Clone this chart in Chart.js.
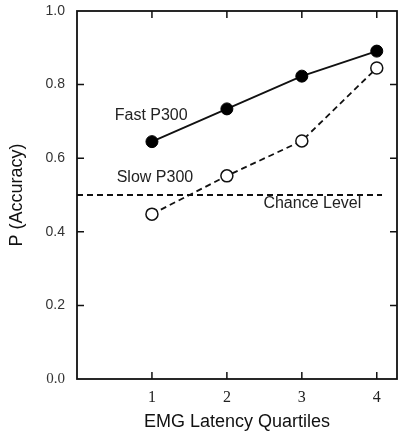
<!DOCTYPE html>
<html><head><meta charset="utf-8">
<script src="https://cdn.jsdelivr.net/npm/chart.js@4.4.1/dist/chart.umd.min.js"></script>
<style>html,body{margin:0;padding:0;background:#fff}#wrap{width:399px;height:435px}</style>
</head><body><div id="wrap"><canvas id="c" width="399" height="435"></canvas></div>
<script>
const quartiles = [1, 2, 3, 4];
const fastP300 = [0.645, 0.734, 0.823, 0.891];
const slowP300 = [0.448, 0.552, 0.647, 0.845];
const chanceX = [0, 4.07];
const chanceY = [0.5, 0.5];
const yTicks = [0, 0.2, 0.4, 0.6, 0.8, 1.0];
const xTicks = [1, 2, 3, 4];
const labels = [
  {text: 'Fast P300', x: 0.99, y: 0.715},
  {text: 'Slow P300', x: 1.04, y: 0.546},
  {text: 'Chance Level', x: 3.14, y: 0.476}
];

const framePlugin = {
  id: 'frame',
  afterDatasetsDraw(chart) {
    const {ctx, chartArea: a, scales: {x, y}} = chart;
    ctx.save();
    ctx.strokeStyle = '#111';
    ctx.lineWidth = 1.8;
    ctx.strokeRect(a.left, a.top, a.right - a.left, a.bottom - a.top);
    const tl = 7;
    ctx.lineWidth = 1.5;
    ctx.beginPath();
    yTicks.forEach(v => {
      if (v <= 0 || v >= 1) return;
      const py = y.getPixelForValue(v);
      ctx.moveTo(a.left, py); ctx.lineTo(a.left + tl, py);
      ctx.moveTo(a.right, py); ctx.lineTo(a.right - tl, py);
    });
    xTicks.forEach(v => {
      const px = x.getPixelForValue(v);
      ctx.moveTo(px, a.bottom); ctx.lineTo(px, a.bottom - tl);
      ctx.moveTo(px, a.top); ctx.lineTo(px, a.top + tl);
    });
    ctx.stroke();
    ctx.fillStyle = '#222';
    ctx.font = '16px "Liberation Sans", Arial, sans-serif';
    ctx.textAlign = 'center';
    ctx.textBaseline = 'middle';
    labels.forEach(l => ctx.fillText(l.text, x.getPixelForValue(l.x), y.getPixelForValue(l.y)));
    ctx.restore();
  }
};

new Chart(document.getElementById('c'), {
  type: 'scatter',
  data: {
    datasets: [
      {
        label: 'Chance Level',
        data: chanceX.map((v, i) => ({x: v, y: chanceY[i]})),
        showLine: true, borderColor: '#111', borderWidth: 1.8, borderDash: [6, 4],
        pointRadius: 0, order: 3
      },
      {
        label: 'Slow P300',
        data: quartiles.map((q, i) => ({x: q, y: slowP300[i]})),
        showLine: true, borderColor: '#111', borderWidth: 1.8, borderDash: [6, 4],
        pointRadius: 6, pointBackgroundColor: '#fff', pointBorderColor: '#111', pointBorderWidth: 1.5, order: 2
      },
      {
        label: 'Fast P300',
        data: quartiles.map((q, i) => ({x: q, y: fastP300[i]})),
        showLine: true, borderColor: '#111', borderWidth: 1.8,
        pointRadius: 6, pointBackgroundColor: '#000', pointBorderColor: '#000', pointBorderWidth: 1, order: 1
      }
    ]
  },
  options: {
    responsive: false, animation: false,
    layout: {autoPadding: false, padding: {top: 11, right: 2, left: 0, bottom: 0}},
    plugins: {legend: {display: false}, tooltip: {enabled: false}},
    scales: {
      x: {
        type: 'linear', min: 0, max: 4.27,
        afterFit(s) { s.height = 56; s.paddingLeft = 0; s.paddingRight = 0; },
        afterBuildTicks(s) { s.ticks = xTicks.map(v => ({value: v})); },
        grid: {display: false, drawTicks: false},
        border: {display: false},
        ticks: {color: '#222', padding: 9, font: {family: '"Liberation Serif", "Times New Roman", serif', size: 16}},
        title: {display: true, text: 'EMG Latency Quartiles', color: '#111',
          font: {family: '"Liberation Sans", Arial, sans-serif', size: 18}, padding: {top: 0, bottom: 2}}
      },
      y: {
        type: 'linear', min: 0, max: 1,
        afterFit(s) { s.width = 77; s.paddingTop = 0; s.paddingBottom = 0; },
        afterBuildTicks(s) { s.ticks = yTicks.map(v => ({value: v})); },
        grid: {display: false, drawTicks: false},
        border: {display: false},
        ticks: {
          color: '#333', padding: 12,
          callback: v => v.toFixed(1),
          font: ctx => (ctx.tick && ctx.tick.value === 0)
            ? {family: '"Liberation Serif", "Times New Roman", serif', size: 15}
            : {family: '"Liberation Sans", Arial, sans-serif', size: 14}
        },
        title: {display: true, text: 'P (Accuracy)', color: '#111',
          font: {family: '"Liberation Sans", Arial, sans-serif', size: 18}, padding: {top: 6, bottom: 0}}
      }
    }
  },
  plugins: [framePlugin]
});
</script></body></html>
